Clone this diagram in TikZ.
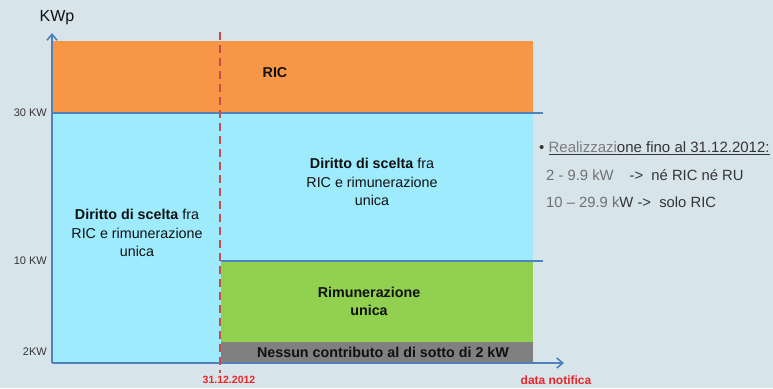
\documentclass[tikz,border=0pt]{standalone}
\usepackage{fontspec}
\setmainfont{Liberation Sans}
\usetikzlibrary{arrows.meta}
\definecolor{bg}{HTML}{D7E4EA}
\definecolor{ric}{HTML}{F79646}
\definecolor{lblue}{HTML}{9EEBFD}
\definecolor{rgreen}{HTML}{92D050}
\definecolor{ngray}{HTML}{808080}
\definecolor{axisblue}{HTML}{4F81BD}
\definecolor{dred}{HTML}{C0504D}
\definecolor{tred}{HTML}{E8262A}
\definecolor{txt}{HTML}{111111}
\tikzset{
  axisline/.style={draw=axisblue, line width=1.6pt},
  levelline/.style={draw=axisblue, line width=1.6pt},
  boxtext/.style={font=\fontsize{14.3}{18.5}\selectfont, text=txt, align=center, inner sep=0pt},
  ticklab/.style={font=\fontsize{11}{12}\selectfont, text=txt!85, anchor=east, inner sep=0pt},
  redlab/.style={font=\fontsize{10.5}{12}\selectfont\bfseries, text=tred, inner sep=0pt},
  notetext/.style={font=\fontsize{15}{16}\selectfont, text=txt!85, anchor=west, inner sep=0pt}
}
\begin{document}
\begin{tikzpicture}[x=1pt,y=-1pt]
\useasboundingbox[fill=bg] (0,0) rectangle (773,388);
% regions
\fill[ric] (53,41) rectangle (533,113);
\fill[lblue] (53,113) rectangle (533,261);
\fill[lblue] (53,261) rectangle (221,363);
\fill[rgreen] (221,261) rectangle (533,342);
\fill[ngray] (221,342) rectangle (533,362);
% level lines
\draw[levelline] (53,113) -- (543,113);
\draw[levelline] (221,261) -- (543,261);
% axes
\coordinate (orig) at (52,363);
\coordinate (ytip) at (52,33);
\coordinate (xtip) at (564,363);
\draw[axisline, -{Straight Barb[length=6pt,width=10pt]}] (orig) -- (ytip);
\draw[axisline, -{Straight Barb[length=6pt,width=10pt]}] (orig) -- (xtip);
% dashed date line
\coordinate (dtop) at (220,32);
\coordinate (dbot) at (220,373);
\draw[dred, line width=1.6pt, dash pattern=on 8pt off 5pt] (dtop) -- (dbot);
% labels
\node[font=\fontsize{16}{18}\selectfont, text=txt, inner sep=0pt] (kwp) at (57,18) {KWp};
\node[ticklab] (t30) at (47,113) {30 KW};
\node[ticklab] (t10) at (47,261) {10 KW};
\node[ticklab] (t2) at (47,352) {2KW};
\node[redlab] (d2012) at (229,380) {31.12.2012};
\node[redlab, font=\fontsize{12}{13}\selectfont\bfseries] (dnot) at (556,380) {data notifica};
% box texts
\node[boxtext, font=\fontsize{14.3}{18}\selectfont\bfseries] (ric) at (275,73) {RIC};
\node[boxtext] (dright) at (372,182) {\textbf{Diritto di scelta} fra\\RIC e rimunerazione\\unica};
\node[boxtext] (dleft) at (137,233) {\textbf{Diritto di scelta} fra\\RIC e rimunerazione\\unica};
\node[boxtext, font=\fontsize{14.3}{18}\selectfont\bfseries] (rim) at (369,301) {Rimunerazione\\unica};
\node[boxtext, font=\fontsize{14.3}{16}\selectfont\bfseries] (ness) at (383,352) {Nessun contributo al di sotto di 2 kW};
% notes
\node[notetext] (n1) at (539,148) {\textbullet\ \underline{\textcolor{txt!55}{Realizzazi}one fino al 31.12.2012:}};
\node[notetext, font=\fontsize{14.8}{16}\selectfont] (n2) at (546,175) {\textcolor{txt!60}{2 - 9.9 kW}\hspace{16pt}->\ \ né RIC né RU};
\node[notetext, font=\fontsize{14.8}{16}\selectfont] (n3) at (546,202) {\textcolor{txt!60}{10 -- 29.9 k}W ->\ \ solo RIC};
\end{tikzpicture}
\end{document}
